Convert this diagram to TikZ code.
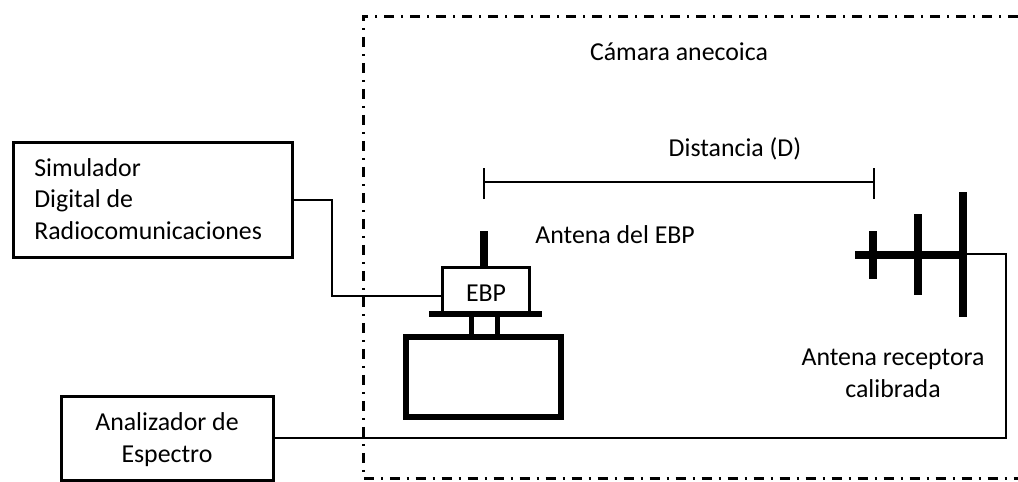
\documentclass[tikz,border=0pt]{standalone}
\usepackage{fontspec}
\setmainfont{Carlito}
\usepackage{tikz}
\usetikzlibrary{calc}

\tikzset{
    boxnode/.style={draw=black, line width=0.06cm, fill=white, inner sep=0pt, outer sep=0pt},
    labeltext/.style={inner sep=0pt, font=\fontsize{14.7}{18.1}\selectfont, align=center, text=black},
    wire/.style={draw=black, line width=0.055cm},
    thinwire/.style={draw=black, line width=0.03cm},
    antbar/.style={draw=black, line width=0.15cm},
    chamber/.style={draw=black, line width=0.06cm, dash pattern=on 0.2cm off 0.14cm on 0.04cm off 0.14cm},
}

\begin{document}
\begin{tikzpicture}[x=0.02cm, y=-0.02cm]
\useasboundingbox (0,0) rectangle (1018,481);

% Anechoic chamber outline
\draw[chamber] (1018,16) -- (363,16) -- (363,478) -- (1018,478);
\node[labeltext] (camara) at (679,52) {Cámara anecoica};

% Instruments outside the chamber
\node[boxnode, minimum width=5.6cm, minimum height=2.3cm] (sim) at (153,200) {};
\node[labeltext, align=left, anchor=west] (simtext) at (34,199) {Simulador\\Digital de\\Radiocomunicaciones};
\node[boxnode, minimum width=4.26cm, minimum height=1.68cm] (ana) at (167.5,438) {};
\node[labeltext] (anatext) at (167,440) {Analizador de\\Espectro};

% Distance bar
\coordinate (distL) at (484,182);
\coordinate (distR) at (874,182);
\draw[thinwire] (distL) -- (distR);
\draw[thinwire] ($(distL)+(0,-14)$) -- ($(distL)+(0,17)$);
\draw[thinwire] ($(distR)+(0,-14)$) -- ($(distR)+(0,17)$);
\node[labeltext] (distancia) at (735,149) {Distancia (D)};

% Device under test on its stand
\node[boxnode, minimum width=3.1cm, minimum height=1.6cm, line width=0.13cm] (stand) at (483.5,377) {};
\draw[draw=black, line width=0.1cm] (471,317) -- (471,335);
\draw[draw=black, line width=0.1cm] (497,317) -- (497,335);
\node[boxnode, minimum width=1.76cm, minimum height=0.9cm] (ebp) at (486,289.5) {};
\node[labeltext] (ebptext) at (486,293) {EBP};
\draw[draw=black, line width=0.13cm] (429,314) -- (542,314);
\draw[antbar] (484,231) -- (484,267);
\node[labeltext, anchor=west] (antebp) at (535,235) {Antena del EBP};

% Calibrated receiving antenna
\coordinate (elemC) at (963,254);
\draw[antbar] (855,255) -- (963,255);
\draw[antbar] (873,231) -- (873,279);
\draw[antbar] (918,214) -- (918,295);
\draw[antbar] (963,192) -- (963,317);
\node[labeltext] (antrx) at (893,373) {Antena receptora\\calibrada};

% Connections
\coordinate (bendsim) at (332,296);
\coordinate (ebpin) at (442,296);
\coordinate (bendrx) at (1006,254);
\draw[wire] (sim.east) -| (bendsim) -- (ebpin);
\draw[wire] (ana.east) -| (bendrx) -- (elemC);
\end{tikzpicture}
\end{document}
